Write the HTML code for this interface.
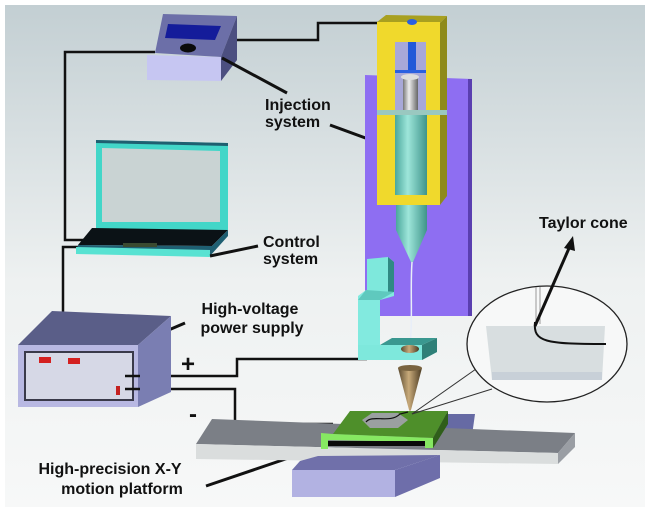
<!DOCTYPE html>
<html><head><meta charset="utf-8"><style>
html,body{margin:0;padding:0;background:#fff}
svg{display:block}
text{font-family:"Liberation Sans",Arial,sans-serif;font-weight:bold;fill:#111}
</style></head><body>
<svg width="650" height="512" viewBox="0 0 650 512" xmlns="http://www.w3.org/2000/svg">
<defs>
<linearGradient id="bg" x1="0" y1="0" x2="0" y2="1">
<stop offset="0" stop-color="#c3cfd3"/><stop offset="0.55" stop-color="#eef1f1"/><stop offset="1" stop-color="#f7f8f8"/>
</linearGradient>
<linearGradient id="cyl" x1="0" y1="0" x2="1" y2="0">
<stop offset="0" stop-color="#4aa79c"/><stop offset="0.4" stop-color="#9ee6da"/><stop offset="1" stop-color="#3e948a"/>
</linearGradient>
<linearGradient id="plg" x1="0" y1="0" x2="1" y2="0">
<stop offset="0" stop-color="#777"/><stop offset="0.4" stop-color="#eee"/><stop offset="1" stop-color="#666"/>
</linearGradient>
<linearGradient id="brz" x1="0" y1="0" x2="1" y2="0">
<stop offset="0" stop-color="#5a4a30"/><stop offset="0.45" stop-color="#c8aa7a"/><stop offset="1" stop-color="#4a3a22"/>
</linearGradient>
</defs>
<rect x="5" y="5" width="640" height="502" fill="url(#bg)"/>

<!-- wires -->
<g fill="none" stroke="#111" stroke-width="2.5">
<polyline points="232,40 318,40 318,23 410,23"/>
<polyline points="155,52 65,52 65,240 92,240"/>
<polyline points="82,247 63,247 63,321"/>
<polyline points="137,376 237,376 237,359 367,359"/>
<polyline points="137,389 235,389 235,424 333,424"/>
</g>

<!-- injection pump box -->
<polygon points="155,53 163,14 237,16 221,57" fill="#6c6fa8"/>
<polygon points="168,24 221,26 215,40 165,38" fill="#141c9a"/>
<ellipse cx="188" cy="48" rx="8" ry="4.5" fill="#0a0a0a"/>
<polygon points="147,55 221,57 221,81 147,80" fill="#c6c6f2"/>
<polygon points="221,57 237,16 237,60 221,81" fill="#4c4f80"/>

<!-- laptop -->
<polygon points="96,140 228,143 228,230 96,230" fill="#42d6c8"/>
<polygon points="96,140 228,143 228,146 96,143" fill="#1f5f70"/>
<polygon points="102,148 220,151 220,222 102,222" fill="#c9d3d3"/>
<polygon points="92,228 228,230 212,246 78,245" fill="#0b1216"/>
<polygon points="78,245 212,246 228,230 228,236 210,256 76,252" fill="#1f5f72"/>
<polygon points="76,247 210,250 210,257 76,254" fill="#58e2d2"/>
<rect x="123" y="243" width="34" height="4" fill="#3a4a30"/>

<!-- leader lines -->
<g stroke="#111" stroke-width="3" fill="none">
<line x1="222" y1="58" x2="287" y2="93"/>
<line x1="330" y1="125" x2="390" y2="147"/>
<line x1="210" y1="256" x2="258" y2="246"/>
<line x1="150" y1="338" x2="185" y2="323"/>
<line x1="206" y1="486" x2="315" y2="449"/>
</g>

<!-- purple backplate -->
<polygon points="365,75 472,79 472,316 365,316" fill="#8e6ef2"/>
<polygon points="468,79 472,79 472,316 468,316" fill="#5a3fb0"/>

<!-- yellow frame -->
<polygon points="377,22 386,15 447,16 440,23" fill="#a8a020"/>
<polygon points="440,23 447,16 447,196 440,205" fill="#8e8a1a"/>
<rect x="377" y="22" width="63" height="183" fill="#f0d92c"/>
<rect x="395" y="42" width="31" height="68" fill="#a8a8d8"/>
<rect x="395" y="115" width="31" height="80" fill="#a8a8d8"/>
<rect x="408" y="42" width="8" height="28" fill="#2259d8"/>
<ellipse cx="412" cy="22" rx="5" ry="3" fill="#2a60e0"/>
<rect x="395" y="70" width="31" height="3" fill="#2a60e0"/>
<rect x="403" y="76" width="15" height="34" fill="url(#plg)"/>
<ellipse cx="410" cy="77" rx="9" ry="3" fill="#ddd"/>
<rect x="395" y="112" width="32" height="83" fill="url(#cyl)"/>
<rect x="377" y="110" width="70" height="5" fill="#9ac8c0"/>
<rect x="396" y="205" width="31" height="25" fill="url(#cyl)"/>
<polygon points="396,230 427,230 413,262 411,262" fill="url(#cyl)"/>
<path d="M412,262 C410,290 413,320 410,345" stroke="#e8eef8" stroke-width="1.5" fill="none"/>

<!-- cyan stand -->
<polygon points="367,259 388,257 394,262 394,296 367,296" fill="#7ee8dc"/>
<polygon points="388,257 394,262 394,296 388,296" fill="#2f8a84"/>
<polygon points="358,296 366,290 394,292 394,296 380,300 380,348 358,348" fill="#82eadf"/>
<polygon points="366,290 394,292 380,300 358,300" fill="#5fc9be"/>
<polygon points="358,345 422,345 437,340 437,352 422,360 358,360" fill="#7ee8dc"/>
<polygon points="380,345 422,345 437,338 392,338" fill="#3a9890"/>
<polygon points="422,345 437,338 437,352 422,360" fill="#2f8078"/>
<ellipse cx="410" cy="349" rx="9" ry="4" fill="url(#brz)"/>
<polygon points="398,368 422,368 411,410 409,410" fill="url(#brz)"/>
<ellipse cx="410" cy="368" rx="12" ry="3" fill="#7a6440"/>
<line x1="410" y1="410" x2="410" y2="420" stroke="#c8b090" stroke-width="1.5"/>

<!-- platform -->
<polygon points="358,414 475,414 470,450 358,450" fill="#666aa4"/>
<polygon points="196,444 212,419 575,433 558,453" fill="#7b7f86"/>
<polygon points="196,444 558,453 558,464 196,459" fill="#dadddd"/>
<polygon points="558,453 575,433 575,447 558,464" fill="#9a9ea4"/>
<polygon points="292,470 395,470 395,497 292,497" fill="#b2b2e2"/>
<polygon points="395,470 440,455 440,478 395,497" fill="#6e6eaa"/>
<polygon points="300,461 318,456 440,455 395,470 292,470" fill="#7070aa"/>
<!-- green stage -->
<polygon points="333,434 350,411 448,411 433,438" fill="#4e8f2a"/>
<polygon points="433,438 448,411 448,424 433,448" fill="#2f5e1a"/>
<polygon points="321,433 333,434 433,438 433,448 425,448 425,442 328,440 328,449 321,449" fill="#86e862"/>
<rect x="328" y="441" width="97" height="5" fill="#0a0a0a"/>
<polygon points="362,420 372,413 398,413 408,420 398,428 370,428" fill="#9aa0a0"/>
<path d="M366,422 C372,414 390,424 400,414 L408,412" stroke="#111" stroke-width="1.2" fill="none"/>

<!-- magnifier -->
<line x1="412" y1="414" x2="476" y2="369" stroke="#333" stroke-width="1"/>
<line x1="412" y1="414" x2="492" y2="389" stroke="#333" stroke-width="1"/>
<ellipse cx="547" cy="344" rx="80" ry="58" fill="#f7f8f8" stroke="#222" stroke-width="1.3"/>
<polygon points="486,326 605,326 602,380 492,380" fill="#d8dee0"/>
<polygon points="492,372 602,372 602,380 492,380" fill="#c8d0d8"/>
<line x1="536" y1="287" x2="536" y2="324" stroke="#999" stroke-width="1"/>
<line x1="540" y1="287" x2="540" y2="324" stroke="#999" stroke-width="1"/>
<path d="M535,322 C533,342 545,344 606,344" stroke="#111" stroke-width="2" fill="none"/>
<!-- taylor cone arrow -->
<line x1="535" y1="326" x2="570" y2="246" stroke="#111" stroke-width="3"/>
<polygon points="573,236 564,248 575,251" fill="#111"/>

<!-- labels -->
<g font-size="16">
<text x="265" y="110">Injection</text>
<text x="265" y="127">system</text>
<text x="263" y="247">Control</text>
<text x="263" y="264">system</text>
<text x="250" y="314" text-anchor="middle">High-voltage</text>
<text x="252" y="333" text-anchor="middle">power supply</text>
<text x="539" y="228">Taylor cone</text>
<text x="110" y="474" text-anchor="middle">High-precision X-Y</text>
<text x="122" y="494" text-anchor="middle">motion platform</text>
</g>
<text x="188" y="372" font-size="24" text-anchor="middle">+</text>
<text x="193" y="422" font-size="24" text-anchor="middle">-</text>

<!-- power supply -->
<polygon points="18,345 52,311 171,316 138,345" fill="#5a5e88"/>
<polygon points="138,345 171,316 171,392 138,407" fill="#7a7eb2"/>
<rect x="18" y="345" width="120" height="62" fill="#b8b8e2"/>
<rect x="25" y="352" width="108" height="48" fill="#d6d8e6" stroke="#3a3a4a" stroke-width="2"/>
<rect x="39" y="357" width="12" height="6" fill="#d42020"/>
<rect x="68" y="358" width="12" height="6" fill="#d42020"/>
<rect x="116" y="386" width="4" height="9" fill="#c42020"/>
<g stroke="#111" stroke-width="2.5"><line x1="125" y1="376" x2="140" y2="376"/><line x1="125" y1="389" x2="140" y2="389"/></g>
</svg>
</body></html>
